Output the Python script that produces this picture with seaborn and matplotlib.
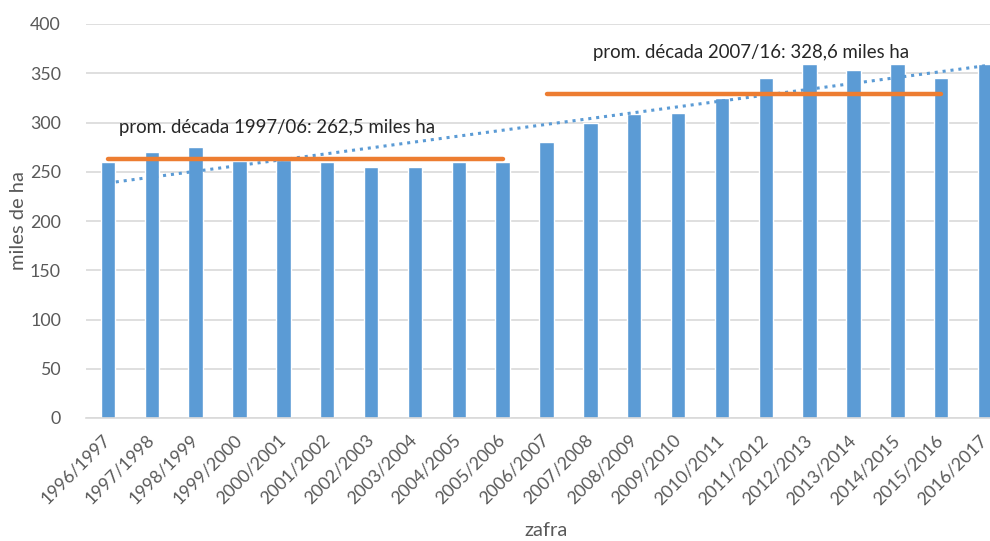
import numpy as np
import pandas as pd
import matplotlib
matplotlib.use("Agg")
import matplotlib.pyplot as plt
import matplotlib.transforms as mtransforms
import seaborn as sns

# Harvest seasons and cultivated area (thousand ha)
zafras = [
    "1996/1997", "1997/1998", "1998/1999", "1999/2000", "2000/2001",
    "2001/2002", "2002/2003", "2003/2004", "2004/2005", "2005/2006",
    "2006/2007", "2007/2008", "2008/2009", "2009/2010", "2010/2011",
    "2011/2012", "2012/2013", "2013/2014", "2014/2015", "2015/2016",
    "2016/2017",
]
superficie = [
    259.5, 270.5, 275.0, 261.0, 262.0,
    259.5, 255.0, 255.0, 259.5, 259.5,
    280.0, 299.5, 308.5, 309.5, 324.5,
    345.0, 359.5, 353.0, 359.5, 345.0,
    359.5,
]

# Decade averages
prom_decada1 = 262.5
prom_decada2 = 328.6
etiqueta_d1 = "prom. década 1997/06: 262,5 miles ha"
etiqueta_d2 = "prom. década 2007/16: 328,6 miles ha"
y_ticks = [0, 50, 100, 150, 200, 250, 300, 350, 400]

BLUE = "#5B9BD5"
ORANGE = "#ED7D31"
GRID = "#D9D9D9"
TXT = "#595959"

sns.set_theme(style="white")
plt.rcParams["font.family"] = ["Lato", "DejaVu Sans"]

fig = plt.figure(figsize=(9.9, 5.41), dpi=100)
ax = fig.add_axes([86 / 990, 1 - 418 / 541, (1007 - 86) / 990, (418 - 24) / 541])

df = pd.DataFrame({"zafra": zafras, "superficie": superficie})
sns.barplot(data=df, x="zafra", y="superficie", color=BLUE, width=0.33,
            saturation=1, ax=ax, zorder=2)

# Linear trend over all seasons
xs = np.arange(len(zafras))
coef = np.polyfit(xs, superficie, 1)
ax.plot(xs, np.polyval(coef, xs), linestyle=(0, (1, 1.6)), color=BLUE,
        linewidth=2.2, zorder=3)

# Decade averages
ax.plot([0, 9], [prom_decada1, prom_decada1], color=ORANGE, linewidth=3.2,
        solid_capstyle="round", zorder=4)
ax.plot([10, 19], [prom_decada2, prom_decada2], color=ORANGE, linewidth=3.2,
        solid_capstyle="round", zorder=4)

ax.text(0.25, 295, etiqueta_d1, fontsize=13.4, color="#262626",
        ha="left", va="center")
ax.text(11.05, 371, etiqueta_d2, fontsize=13.4, color="#262626",
        ha="left", va="center")

ax.set_ylim(0, 400)
ax.set_xlim(-0.5, len(zafras) - 0.5)
ax.set_yticks(y_ticks)
ax.yaxis.grid(True, color=GRID, linewidth=1.2, zorder=0)
ax.set_axisbelow(True)
for side in ["top", "right", "left"]:
    ax.spines[side].set_visible(False)
ax.spines["bottom"].set_color(GRID)
ax.spines["bottom"].set_linewidth(1.2)

ax.tick_params(axis="both", length=0, labelsize=12.8, colors=TXT)
ax.tick_params(axis="y", pad=18)
ax.set_xticks(xs)
ax.set_xticklabels(zafras, rotation=45, ha="right", rotation_mode="anchor")
ax.tick_params(axis="x", pad=10)
shift = mtransforms.ScaledTranslation(-6 / 100, 0, fig.dpi_scale_trans)
for lab in ax.get_xticklabels():
    lab.set_transform(lab.get_transform() + shift)

ax.set_xlabel("zafra", fontsize=14.5, color=TXT, labelpad=10.5)
ax.set_ylabel("miles de ha", fontsize=14.5, color=TXT, labelpad=2)

fig.savefig("out.png", dpi=100)
